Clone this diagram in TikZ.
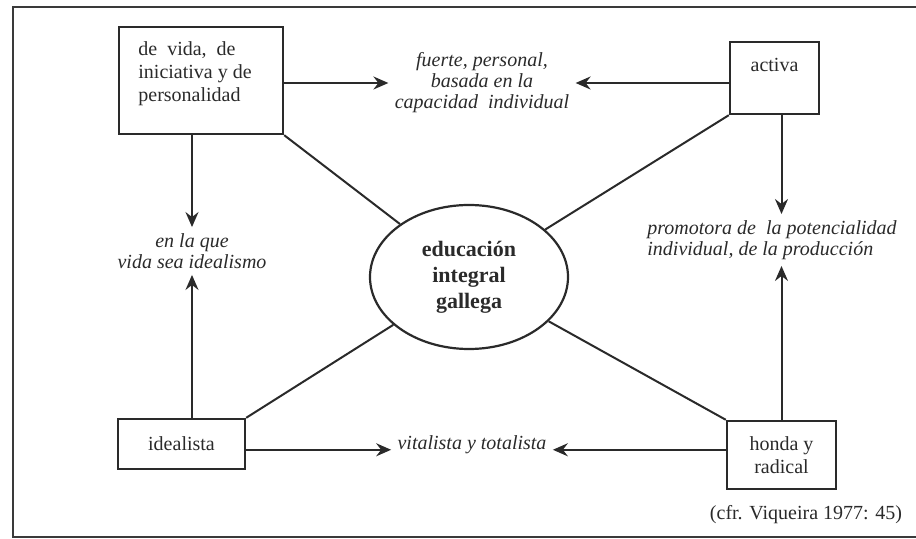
\documentclass[tikz,border=0pt]{standalone}
\usepackage{fontspec}
\setmainfont{Liberation Serif}
\usepackage{tikz}
\usetikzlibrary{arrows.meta,positioning,calc,shapes.geometric}
\definecolor{Ink}{HTML}{2A2A2A}
\definecolor{Frame}{HTML}{3A3A3A}
\tikzset{
  arr/.style={-{Stealth[length=7.5pt,width=6.5pt,inset=2.5pt]},line width=1pt,draw=Ink},
  link/.style={line width=1pt,draw=Ink},
  boxstyle/.style={draw=Ink,line width=1.2pt,inner sep=0pt},
  txt/.style={text=Ink,font=\fontsize{10}{11.5}\selectfont,inner sep=3pt},
  itxt/.style={txt,font=\fontsize{10}{10.5}\selectfont\itshape,align=center}
}
\begin{document}
\begin{tikzpicture}[x=0.5pt,y=-0.5pt]
  \useasboundingbox (0,0) rectangle (916,539);
  \draw[line width=1.1pt,draw=Frame] (925,7) -- (13,7) -- (13,537) -- (925,537);
  % boxes
  \node[boxstyle,minimum width=82pt,minimum height=53.5pt] (vida) at (201,80.5) {};
  \node[txt,align=left,anchor=north west,inner sep=0pt] (vidatxt) at (138,41) {de\ \ vida,\ \ de\\iniciativa y de\\personalidad};
  \node[boxstyle,minimum width=44.5pt,minimum height=36pt] (activa) at (774.5,78) {};
  \node[txt,anchor=base,inner sep=0pt] (activatxt) at (774.5,71.5) {activa};
  \node[boxstyle,txt,inner sep=0pt,minimum width=63.5pt,minimum height=25pt] (ideal) at (181.5,444) {idealista};
  \node[boxstyle,txt,align=center,inner sep=0pt,minimum width=54.5pt,minimum height=34pt] (honda) at (781.5,455) {honda y\\radical};
  \node[draw=Ink,line width=1.1pt,ellipse,minimum width=99pt,minimum height=72pt,inner sep=0pt,
        text=Ink,font=\fontsize{11}{13}\selectfont\bfseries,align=center] (edu) at (469,277) {educación\\integral\\gallega};
  % texts
  \node[itxt] (fuerte) at (482,83) {fuerte, personal,\\basada en la\\capacidad\ \ individual};
  \node[itxt] (enlaque) at (192,251) {en la que\\vida sea idealismo};
  \node[itxt,align=left] (promo) at (772,240) {promotora de\ \ la potencialidad\\individual, de la producción};
  \node[itxt] (vital) at (472,445) {vitalista y totalista};
  \node[txt] (cita) at (806,515) {(cfr. Viqueira 1977: 45)};
  % arrows
  \draw[arr] (vida.east |- fuerte.west) -- (fuerte.west);
  \draw[arr] (activa.west |- fuerte.east) -- (fuerte.east);
  \draw[arr] (enlaque.north |- vida.south) -- (enlaque.north);
  \draw[arr] (enlaque.south |- ideal.north) -- (enlaque.south);
  \draw[arr] (honda.north |- activa.south) -- (honda.north |- promo.north);
  \draw[arr] (honda.north) -- (honda.north |- promo.south);
  \draw[arr] (ideal.east |- vital.base west) -- (vital.base west);
  \draw[arr] (honda.west |- vital.base east) -- (vital.base east);
  % links to the centre
  \draw[link] (vida.south east) -- (edu);
  \draw[link] (activa.south west) -- (edu);
  \draw[link] (ideal.north east) -- (edu);
  \draw[link] (honda.north west) -- (edu);
\end{tikzpicture}
\end{document}
